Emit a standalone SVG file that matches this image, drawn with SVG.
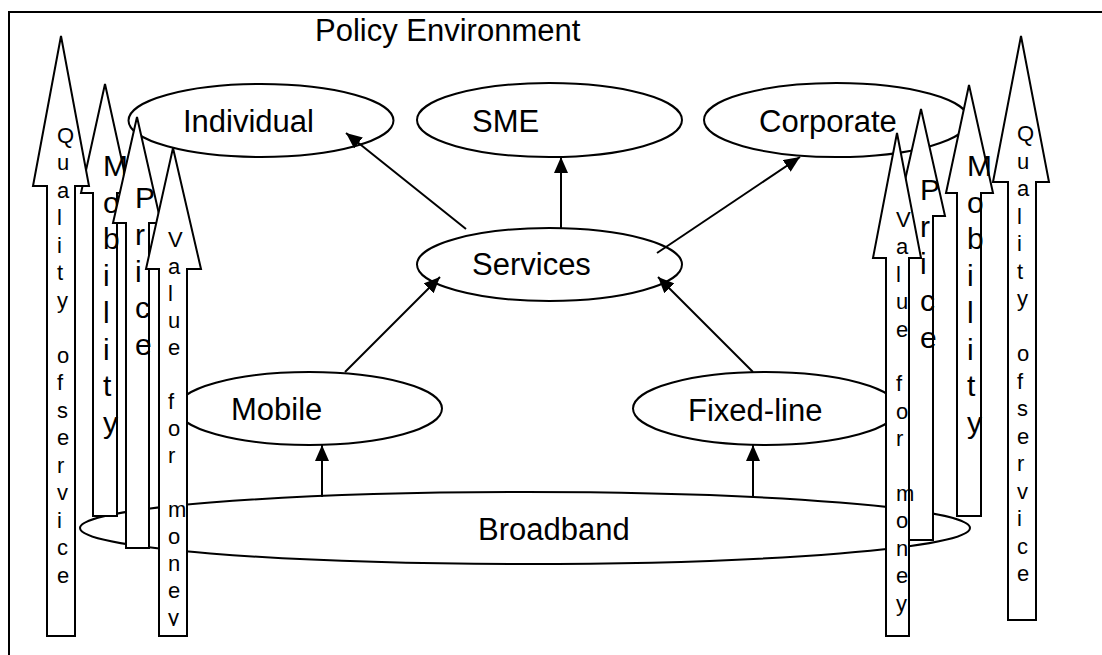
<svg xmlns="http://www.w3.org/2000/svg" width="1102" height="655" viewBox="0 0 1102 655">
<style>
.sh{fill:#fff;stroke:#000;stroke-width:2;stroke-linejoin:miter}
.ln{fill:none;stroke:#000;stroke-width:2}
.lb{font-family:"Liberation Sans",Arial,sans-serif;font-size:31px;fill:#000}
.sm{font-family:"Liberation Sans",Arial,sans-serif;font-size:22px;fill:#000}
.bg{font-family:"Liberation Sans",Arial,sans-serif;font-size:30px;fill:#000}
</style>
<defs>
<marker id="ah" markerUnits="userSpaceOnUse" markerWidth="16" markerHeight="14" refX="16" refY="7" orient="auto">
<path d="M0,0 L16,7 L0,14 z" fill="#000"/>
</marker>
<clipPath id="clipLV"><rect x="150" y="140" width="50" height="486"/></clipPath>
</defs>
<rect width="1102" height="655" fill="#fff"/>
<path class="ln" d="M9,655 V12 H1102"/>
<text class="lb" x="315" y="41">Policy Environment</text>

<g id="broadband"><ellipse class="sh" cx="525" cy="528" rx="445" ry="36"/><text class="lb" x="478" y="540">Broadband</text></g>
<g id="individual"><ellipse class="sh" cx="261" cy="120.5" rx="132.5" ry="36.5"/><text class="lb" x="183" y="132">Individual</text></g>
<g id="sme"><ellipse class="sh" cx="549.5" cy="120" rx="132.5" ry="37"/><text class="lb" x="472" y="132">SME</text></g>
<g id="corporate"><ellipse class="sh" cx="836.5" cy="120" rx="132.5" ry="37"/><text class="lb" x="759" y="132">Corporate</text></g>
<g id="services"><ellipse class="sh" cx="549.5" cy="264.5" rx="132.5" ry="36.5"/><text class="lb" x="472" y="275">Services</text></g>
<g id="mobile"><ellipse class="sh" cx="309.5" cy="408.5" rx="132.5" ry="36.5"/><text class="lb" x="231" y="420">Mobile</text></g>
<g id="fixedline"><ellipse class="sh" cx="765.5" cy="408.5" rx="132.5" ry="36.5"/><text class="lb" x="688" y="421">Fixed-line</text></g>

<g id="connectors">
<line class="ln" x1="466" y1="229" x2="346" y2="133" marker-end="url(#ah)"/>
<line class="ln" x1="561" y1="228" x2="561" y2="157" marker-end="url(#ah)"/>
<line class="ln" x1="657" y1="253" x2="800" y2="157" marker-end="url(#ah)"/>
<line class="ln" x1="345" y1="372" x2="440" y2="277" marker-end="url(#ah)"/>
<line class="ln" x1="753" y1="372" x2="658" y2="277" marker-end="url(#ah)"/>
<line class="ln" x1="322" y1="497" x2="322" y2="445" marker-end="url(#ah)"/>
<line class="ln" x1="753" y1="497" x2="753" y2="445" marker-end="url(#ah)"/>
</g>

<g id="left-mobility">
<polygon class="sh" points="105,84 129,193 117,193 117,516 93,516 93,193 81,193"/>
<text class="bg"><tspan x="103" y="176">M</tspan><tspan x="103" y="212.7">o</tspan><tspan x="103" y="249.4">b</tspan><tspan x="103" y="286.1">i</tspan><tspan x="103" y="322.8">l</tspan><tspan x="103" y="359.5">i</tspan><tspan x="103" y="396.2">t</tspan><tspan x="103" y="432.9">y</tspan></text>
</g>
<g id="left-quality">
<polygon class="sh" points="61,36 89,186 75,186 75,636 47,636 47,186 33,186"/>
<text class="sm"><tspan x="57" y="142.5">Q</tspan><tspan x="57" y="170">u</tspan><tspan x="57" y="197.5">a</tspan><tspan x="57" y="225">l</tspan><tspan x="57" y="252.5">i</tspan><tspan x="57" y="280">t</tspan><tspan x="57" y="307.5">y</tspan><tspan x="57" y="362.5">o</tspan><tspan x="57" y="390">f</tspan><tspan x="57" y="417.5">s</tspan><tspan x="57" y="445">e</tspan><tspan x="57" y="472.5">r</tspan><tspan x="57" y="500">v</tspan><tspan x="57" y="527.5">i</tspan><tspan x="57" y="555">c</tspan><tspan x="57" y="582.5">e</tspan></text>
</g>
<g id="left-price">
<polygon class="sh" points="137,117 161,223 149,223 149,548 126,548 126,223 113,223"/>
<text class="bg"><tspan x="135" y="208">P</tspan><tspan x="135" y="244.75">r</tspan><tspan x="135" y="281.5">i</tspan><tspan x="135" y="318.25">c</tspan><tspan x="135" y="355">e</tspan></text>
</g>
<g id="left-value">
<polygon class="sh" points="173,148 201,269 187,269 187,636 159,636 159,269 146,269"/>
<text class="sm" clip-path="url(#clipLV)"><tspan x="168" y="247">V</tspan><tspan x="168" y="274">a</tspan><tspan x="168" y="301">l</tspan><tspan x="168" y="328">u</tspan><tspan x="168" y="355">e</tspan><tspan x="168" y="409">f</tspan><tspan x="168" y="436">o</tspan><tspan x="168" y="463">r</tspan><tspan x="168" y="517">m</tspan><tspan x="168" y="544">o</tspan><tspan x="168" y="571">n</tspan><tspan x="168" y="598">e</tspan><tspan x="168" y="625">y</tspan></text>
</g>

<g id="right-price">
<polygon class="sh" points="921,109 945,216 933,216 933,540 909,540 909,216 897,216"/>
<text class="bg"><tspan x="920" y="200">P</tspan><tspan x="920" y="237">r</tspan><tspan x="920" y="274">i</tspan><tspan x="920" y="311">c</tspan><tspan x="920" y="348">e</tspan></text>
</g>
<g id="right-value">
<polygon class="sh" points="897,133 921,258 909,258 909,636 886,636 886,258 873,258"/>
<text class="sm"><tspan x="896" y="227">V</tspan><tspan x="896" y="254.4">a</tspan><tspan x="896" y="281.8">l</tspan><tspan x="896" y="309.2">u</tspan><tspan x="896" y="336.6">e</tspan><tspan x="896" y="391.4">f</tspan><tspan x="896" y="418.8">o</tspan><tspan x="896" y="446.2">r</tspan><tspan x="896" y="501">m</tspan><tspan x="896" y="528.4">o</tspan><tspan x="896" y="555.8">n</tspan><tspan x="896" y="583.2">e</tspan><tspan x="896" y="610.6">y</tspan></text>
</g>
<g id="right-mobility">
<polygon class="sh" points="969,85 993,193 981,193 981,516 957,516 957,193 946,193"/>
<text class="bg"><tspan x="967" y="176">M</tspan><tspan x="967" y="212.7">o</tspan><tspan x="967" y="249.4">b</tspan><tspan x="967" y="286.1">i</tspan><tspan x="967" y="322.8">l</tspan><tspan x="967" y="359.5">i</tspan><tspan x="967" y="396.2">t</tspan><tspan x="967" y="432.9">y</tspan></text>
</g>
<g id="right-quality">
<polygon class="sh" points="1021,36 1049,182 1036,182 1036,620 1008,620 1008,182 993,182"/>
<text class="sm"><tspan x="1017" y="141">Q</tspan><tspan x="1017" y="168.5">u</tspan><tspan x="1017" y="196">a</tspan><tspan x="1017" y="223.5">l</tspan><tspan x="1017" y="251">i</tspan><tspan x="1017" y="278.5">t</tspan><tspan x="1017" y="306">y</tspan><tspan x="1017" y="361">o</tspan><tspan x="1017" y="388.5">f</tspan><tspan x="1017" y="416">s</tspan><tspan x="1017" y="443.5">e</tspan><tspan x="1017" y="471">r</tspan><tspan x="1017" y="498.5">v</tspan><tspan x="1017" y="526">i</tspan><tspan x="1017" y="553.5">c</tspan><tspan x="1017" y="581">e</tspan></text>
</g>
</svg>
